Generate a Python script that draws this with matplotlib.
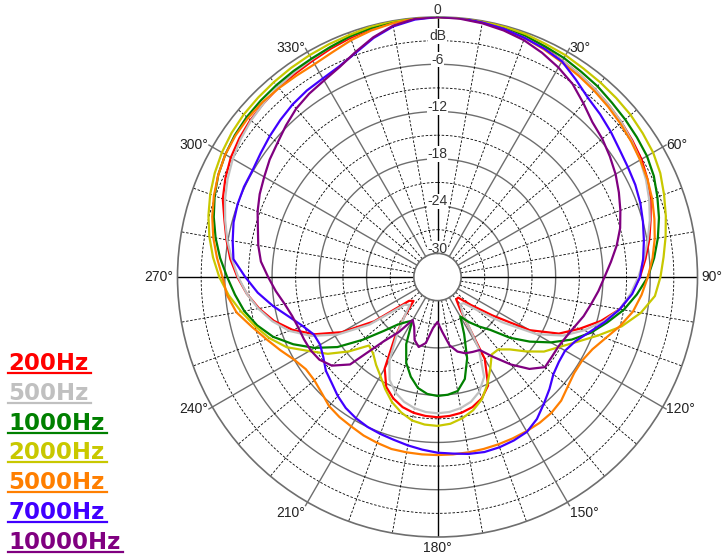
import numpy as np
import matplotlib
matplotlib.use('Agg')
import matplotlib.pyplot as plt
from matplotlib.lines import Line2D

# angles in degrees (clockwise from front), level in dB
angles = list(range(0, 360, 5))

db_200 = [0, 0, -0.1, -0.2, -0.5, -0.9, -1.3, -1.6, -1.9, -2.2, -2.5, -2.8,
          -3.1, -3.6, -4.2, -5.0, -5.7, -6.5, -7.3, -8.3, -9.5, -11.5, -13.8, -16.0,
          -19.5, -24.5, -27.5, -29.3, -29.3, -28.0, -21.0, -17.8, -16.6, -15.9, -15.5, -15.3,
          -15.2, -15.3, -15.5, -15.9, -16.6, -17.6, -19.6, -23.5, -26.5, -28.7, -28.3, -23.2,
          -19.0, -15.8, -13.4, -11.5, -10.0, -8.7, -7.6, -6.6, -5.8, -5.0, -4.0, -3.3,
          -2.7, -2.3, -2.0, -1.8, -1.6, -1.5, -1.3, -1.0, -0.7, -0.4, -0.2, -0.05]

db_500 = [0, 0, -0.1, -0.3, -0.6, -1.0, -1.3, -1.6, -1.9, -2.2, -2.5, -2.9,
          -3.3, -3.8, -4.4, -5.1, -5.9, -6.7, -7.5, -8.4, -9.5, -11.2, -13.2, -15.4,
          -18.5, -23.0, -26.5, -28.3, -28.5, -27.5, -22.5, -19.0, -17.5, -16.6, -16.1, -15.8,
          -15.7, -15.8, -16.1, -16.6, -17.4, -18.6, -20.8, -24.0, -26.5, -28.0, -27.5, -22.5,
          -18.4, -15.3, -13.0, -11.3, -9.9, -8.7, -7.7, -6.8, -5.9, -5.1, -4.3, -3.6,
          -3.0, -2.5, -2.1, -1.8, -1.5, -1.3, -1.1, -0.8, -0.5, -0.3, -0.1, 0]

db_1000 = [0, 0, -0.1, -0.2, -0.4, -0.7, -0.9, -1.2, -1.4, -1.7, -1.9, -2.1,
           -2.3, -2.7, -3.3, -3.9, -4.6, -5.4, -6.3, -7.6, -9.0, -10.7, -12.3, -14.2,
           -16.4, -18.7, -21.0, -23.5, -24.8, -26.0, -27.2, -25.0, -22.0, -19.6, -18.3, -18.0,
           -17.9, -18.1, -18.7, -19.9, -21.4, -23.6, -26.6, -26.0, -25.1, -23.3, -20.6, -17.5,
           -15.0, -12.8, -10.8, -9.3, -8.1, -7.2, -6.3, -5.3, -4.4, -3.6, -2.9, -2.3,
           -1.9, -1.6, -1.4, -1.3, -1.2, -1.1, -1.0, -0.8, -0.5, -0.3, -0.1, 0]

db_2000 = [0, 0, 0, -0.1, -0.2, -0.4, -0.5, -0.7, -0.8, -0.9, -1.0, -1.2,
           -1.4, -1.8, -2.4, -3.0, -3.6, -4.2, -4.7, -5.3, -6.8, -8.8, -11.3, -13.5,
           -15.2, -16.5, -18.3, -20.0, -21.0, -21.0, -19.6, -18.0, -16.5, -15.5, -14.8, -14.3,
           -14.1, -14.2, -14.5, -15.2, -16.1, -17.3, -18.5, -19.4, -20.3, -20.7, -18.3, -16.0,
           -14.2, -11.9, -10.3, -9.0, -7.7, -6.4, -5.3, -4.4, -3.6, -2.9, -2.3, -1.8,
           -1.4, -1.1, -0.9, -0.8, -0.7, -0.6, -0.5, -0.4, -0.3, -0.1, 0, 0]

db_5000 = [0, 0, -0.2, -0.4, -0.7, -1.1, -1.5, -1.8, -2.1, -2.4, -2.7, -3.0,
           -3.3, -3.6, -4.0, -4.5, -5.0, -5.6, -6.3, -7.0, -7.8, -9.0, -10.3, -11.3,
           -11.8, -11.8, -11.4, -10.8, -10.5, -10.4, -10.4, -10.4, -10.4, -10.4, -10.4, -10.4,
           -10.4, -10.4, -10.4, -10.4, -10.6, -10.8, -11.1, -11.3, -11.6, -12.2, -12.6, -12.6,
           -12.0, -11.0, -9.9, -8.6, -7.1, -6.2, -5.7, -4.9, -4.1, -3.4, -2.8, -2.3,
           -1.9, -1.7, -1.6, -1.6, -1.7, -1.8, -1.8, -1.5, -1.0, -0.6, -0.3, -0.1]

db_7000 = [0, 0, -0.2, -0.4, -0.7, -1.0, -1.4, -2.4, -3.3, -3.8, -4.3, -4.8,
           -5.1, -5.3, -5.6, -6.0, -6.4, -6.8, -7.3, -8.2, -9.5, -11.0, -12.5, -13.7,
           -14.3, -14.2, -13.8, -12.9, -12.0, -11.0, -10.3, -10.1, -10.0, -10.0, -10.2, -10.5,
           -10.7, -11.0, -11.3, -11.6, -11.8, -12.0, -12.3, -12.7, -13.3, -14.0, -14.5, -15.3,
           -15.8, -15.7, -14.8, -13.5, -11.8, -10.1, -8.6, -7.0, -6.6, -6.2, -6.0, -5.9,
           -5.9, -5.6, -5.2, -4.8, -4.4, -4.1, -3.9, -3.5, -2.7, -1.6, -0.7, -0.2]

db_10000 = [0, -0.1, -0.3, -0.6, -1.0, -1.6, -2.3, -3.1, -4.2, -5.2, -5.7, -6.3,
            -6.9, -7.6, -8.3, -9.0, -9.9, -10.9, -11.8, -12.5, -13.2, -13.8, -14.5, -15.0,
            -15.3, -15.3, -15.2, -16.5, -18.5, -20.6, -22.3, -22.5, -22.7, -23.2, -24.2, -26.0,
            -27.3, -26.5, -24.5, -23.8, -24.5, -26.0, -26.7, -24.5, -22.3, -17.3, -15.5, -14.7,
            -14.4, -14.3, -14.2, -13.9, -13.3, -12.4, -11.5, -10.5, -9.9, -9.4, -8.7, -8.1,
            -7.6, -7.0, -6.5, -5.8, -5.1, -4.6, -4.2, -3.6, -2.6, -1.5, -0.6, -0.1]

labels = ['200Hz', '500Hz', '1000Hz', '2000Hz', '5000Hz', '7000Hz', '10000Hz']
colors = ['#ff0000', '#c0c0c0', '#008000', '#c8c800', '#ff7f00', '#4000ff', '#800080']
series = [db_200, db_500, db_1000, db_2000, db_5000, db_7000, db_10000]

ring_levels = list(range(-3, -30, -3))
ring_labels = {0: '0', -3: 'dB', -6: '-6', -12: '-12', -18: '-18', -24: '-24', -30: '-30'}
angle_ticks = list(range(30, 360, 30))

W, H = 725, 557
fig = plt.figure(figsize=(W / 100, H / 100), dpi=100)
ax = fig.add_axes([177.5 / W, 1 - 537 / H, 520 / W, 520 / H], projection='polar')
ax.set_theta_zero_location('N')
ax.set_theta_direction(-1)
ax.set_rlim(-30, 0)
ax.set_rorigin(-33)
ax.grid(False)
ax.set_xticks([])
ax.set_yticks([])
for name in ['polar', 'inner']:
    ax.spines[name].set_color('#6e6e6e')
    ax.spines[name].set_linewidth(1.2)

full = np.linspace(0, 2 * np.pi, 361)
for lev in ring_levels:
    if lev % 6 == 0:
        ax.plot(full, [lev] * len(full), color='#6e6e6e', lw=1.0, zorder=1)
    else:
        ax.plot(full, [lev] * len(full), color='black', lw=0.6, ls=(0, (3, 2)), zorder=1)

for a in range(0, 360, 10):
    th = np.deg2rad(a)
    if a % 90 == 0:
        ax.plot([th, th], [-30, 0], color='black', lw=1.0, zorder=1)
    elif a % 30 == 0:
        ax.plot([th, th], [-30, 0.5], color='#6e6e6e', lw=1.0, zorder=1, clip_on=False)
    else:
        ax.plot([th, th], [-30, 0], color='black', lw=0.6, ls=(0, (3, 2)), zorder=1)

for lev, txt in ring_labels.items():
    off = 0.9 if lev == 0 else 0.6
    ax.text(0, lev + off, txt, ha='center', va='center', fontsize=10,
            family='Liberation Sans', color='#333333', zorder=2, clip_on=False,
            bbox=dict(facecolor='white', edgecolor='none', pad=0.5))

for a in angle_ticks:
    if a == 180:
        ha, va = 'center', 'top'
    elif a < 180:
        ha, va = 'left', 'top' if a == 150 else 'center'
    else:
        ha, va = 'right', 'top' if a == 210 else 'center'
    ax.text(np.deg2rad(a), 0.55, f'{a}°', ha=ha, va=va, fontsize=10,
            family='Liberation Sans', color='#222222', clip_on=False)

theta = np.deg2rad(angles + [360])
for vals, col in zip(series, colors):
    ax.plot(theta, vals + [vals[0]], color=col, lw=1.6, zorder=3)

texts = []
for i, (lab, col) in enumerate(zip(labels, colors)):
    base = 370 + 29.8 * i
    t = fig.text(8 / W, 1 - base / H, lab, color=col, fontsize=16.5, fontweight='bold',
                 family='DejaVu Sans', ha='left', va='baseline')
    texts.append((t, base, col))

fig.canvas.draw()
rend = fig.canvas.get_renderer()
for t, base, col in texts:
    bb = t.get_window_extent(rend)
    y = 1 - (base + 3) / H
    fig.add_artist(Line2D([bb.x0 / W, (bb.x1 + 3) / W], [y, y], color=col, lw=1.6,
                          transform=fig.transFigure))

fig.savefig('out.png', dpi=100, facecolor='white')
